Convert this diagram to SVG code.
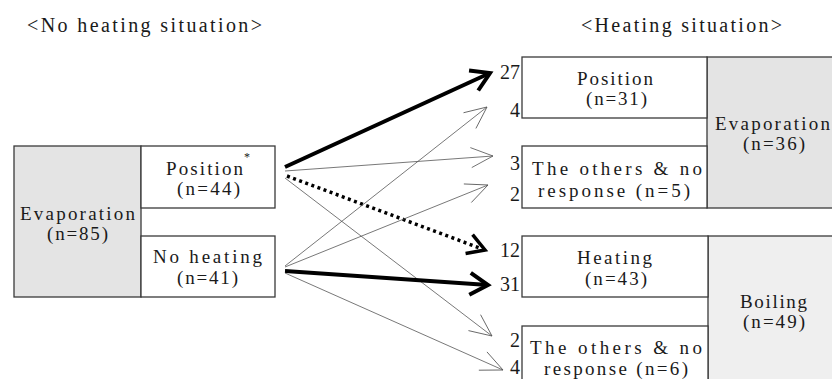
<svg xmlns="http://www.w3.org/2000/svg" width="832" height="379" viewBox="0 0 832 379">
<style>
text{font-family:"Liberation Serif","Times New Roman","DejaVu Serif",serif;font-size:19px;fill:#1a1a1a;}
.c{text-anchor:middle;}
.n{text-anchor:end;font-size:20px;}
.box{fill:#ffffff;stroke:#3a3a3a;stroke-width:1.3;}
.g1{fill:#e4e4e4;stroke:#3a3a3a;stroke-width:1.3;}
.g2{fill:#efefef;stroke:#3a3a3a;stroke-width:1.3;}
.thin{stroke:#555;stroke-width:0.8;fill:none;}
.thick{stroke:#000;stroke-width:4;fill:none;}
.dot{stroke:#000;stroke-width:3.5;stroke-dasharray:3 3.5;fill:none;}
</style>
<defs>
<marker id="ah-thin" markerUnits="userSpaceOnUse" markerWidth="40" markerHeight="40" viewBox="-30 -20 40 40" refX="0" refY="0" orient="auto" overflow="visible">
<path d="M-22,-10 L0,0 L-22,10" fill="none" stroke="#555" stroke-width="0.8"/>
</marker>
<marker id="ah-thick" markerUnits="userSpaceOnUse" markerWidth="40" markerHeight="40" viewBox="-30 -20 40 40" refX="0" refY="0" orient="auto" overflow="visible">
<path d="M-18,-11 L0,0 L-18,11" fill="none" stroke="#000" stroke-width="4"/>
</marker>
<marker id="ah-dot" markerUnits="userSpaceOnUse" markerWidth="40" markerHeight="40" viewBox="-30 -20 40 40" refX="0" refY="0" orient="auto" overflow="visible">
<path d="M-17,-10 L0,0 L-17,10" fill="none" stroke="#000" stroke-width="3.5"/>
</marker>
</defs>
<rect width="832" height="379" fill="#ffffff"/>

<text x="144.5" y="32" class="c" style="font-size:20px" textLength="235" lengthAdjust="spacing">&lt;No heating situation&gt;</text>
<text x="681.5" y="32" class="c" style="font-size:20px" textLength="201" lengthAdjust="spacing">&lt;Heating situation&gt;</text>

<g id="left-evaporation">
<rect class="g1" x="14" y="146" width="127" height="151"/>
<text x="77.5" y="220" class="c" textLength="115" lengthAdjust="spacing">Evaporation</text>
<text x="77.5" y="240" class="c" textLength="61" lengthAdjust="spacing">(n=85)</text>
</g>
<g id="left-position">
<rect class="box" x="141" y="146" width="134" height="62"/>
<text x="204.5" y="175" class="c" textLength="77" lengthAdjust="spacing">Position</text>
<text x="247" y="161" style="font-size:12px" class="c">*</text>
<text x="208.5" y="195" class="c" textLength="63" lengthAdjust="spacing">(n=44)</text>
</g>
<g id="left-noheating">
<rect class="box" x="141" y="236" width="134" height="61"/>
<text x="207.5" y="263" class="c" textLength="109" lengthAdjust="spacing">No heating</text>
<text x="207.5" y="284" class="c" textLength="61" lengthAdjust="spacing">(n=41)</text>
</g>

<g id="right-evaporation">
<rect class="g1" x="707" y="57" width="140" height="151"/>
<text x="772.5" y="130" class="c" textLength="115" lengthAdjust="spacing">Evaporation</text>
<text x="774" y="150" class="c" textLength="62" lengthAdjust="spacing">(n=36)</text>
</g>
<g id="right-position">
<rect class="box" x="522" y="57" width="185" height="61"/>
<text x="615" y="85" class="c" textLength="76" lengthAdjust="spacing">Position</text>
<text x="616.5" y="105" class="c" textLength="61" lengthAdjust="spacing">(n=31)</text>
</g>
<g id="right-others1">
<rect class="box" x="522" y="146" width="185" height="62"/>
<text x="617" y="175" class="c" textLength="170" lengthAdjust="spacing">The others &amp; no</text>
<text x="614" y="197" class="c" textLength="152" lengthAdjust="spacing">response (n=5)</text>
</g>
<g id="right-boiling">
<rect class="g2" x="708" y="236" width="140" height="160"/>
<text x="773.5" y="308" class="c" textLength="67" lengthAdjust="spacing">Boiling</text>
<text x="774" y="328" class="c" textLength="62" lengthAdjust="spacing">(n=49)</text>
</g>
<g id="right-heating">
<rect class="box" x="522" y="236" width="186" height="61"/>
<text x="614.5" y="264" class="c" textLength="75" lengthAdjust="spacing">Heating</text>
<text x="616" y="285" class="c" textLength="62" lengthAdjust="spacing">(n=43)</text>
</g>
<g id="right-others2">
<rect class="box" x="522" y="326" width="186" height="70"/>
<text x="616" y="354" class="c" textLength="172" lengthAdjust="spacing">The others &amp; no</text>
<text x="616" y="375" class="c" textLength="144" lengthAdjust="spacing">response (n=6)</text>
</g>

<g id="counts">
<text x="520" y="79" class="n">27</text>
<text x="520" y="117" class="n">4</text>
<text x="520" y="170" class="n">3</text>
<text x="520" y="201" class="n">2</text>
<text x="520" y="257" class="n">12</text>
<text x="520" y="291" class="n">31</text>
<text x="520" y="347" class="n">2</text>
<text x="520" y="374" class="n">4</text>
</g>

<g id="connectors">
<path class="thick" d="M285,167 L490,73" marker-end="url(#ah-thick)"/>
<path class="thin" d="M285,171 L493,156" marker-end="url(#ah-thin)"/>
<path class="dot" d="M287,176 L485,250" marker-end="url(#ah-dot)"/>
<path class="thin" d="M285,178 L492,336" marker-end="url(#ah-thin)"/>
<path class="thin" d="M285,266 L487,107" marker-end="url(#ah-thin)"/>
<path class="thin" d="M285,267 L488,185" marker-end="url(#ah-thin)"/>
<path class="thick" d="M285,271 L488,285" marker-end="url(#ah-thick)"/>
<path class="thin" d="M285,273 L503,370" marker-end="url(#ah-thin)"/>
</g>
</svg>
